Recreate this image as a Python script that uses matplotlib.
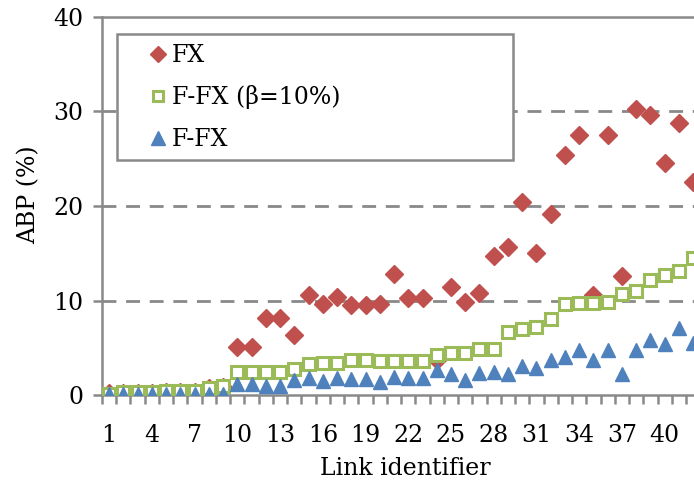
import numpy as np
import matplotlib
matplotlib.use("Agg")
import matplotlib.pyplot as plt
from matplotlib.ticker import FixedLocator
from matplotlib.patches import Rectangle

plt.rcParams['font.family'] = ['DejaVu Serif']

links = list(range(1, 43))
fx = [0.2, 0.2, 0.2, 0.2, 0.3, 0.3, 0.3, 0.7, 0.8, 5.1,
      5.1, 8.1, 8.1, 6.4, 10.6, 9.6, 10.4, 9.5, 9.5, 9.6,
      12.8, 10.3, 10.3, 3.7, 11.4, 9.8, 10.8, 14.7, 15.7, 20.4,
      15.0, 19.2, 25.4, 27.5, 10.6, 27.5, 12.6, 30.3, 29.6, 24.6,
      28.8, 22.5]
ffx_beta = [0.1, 0.3, 0.3, 0.3, 0.4, 0.4, 0.4, 0.7, 0.9, 2.4,
            2.4, 2.4, 2.4, 2.8, 3.3, 3.4, 3.4, 3.7, 3.7, 3.6,
            3.6, 3.6, 3.6, 4.2, 4.4, 4.4, 4.9, 4.9, 6.7, 7.0,
            7.2, 8.0, 9.6, 9.7, 9.7, 9.8, 10.7, 11.0, 12.2, 12.7,
            13.1, 14.5]
ffx = [0.1, 0.1, 0.1, 0.1, 0.1, 0.1, 0.1, 0.1, 0.1, 1.2,
       1.2, 0.9, 0.9, 1.6, 1.8, 1.5, 1.8, 1.7, 1.7, 1.4,
       1.9, 1.8, 1.8, 2.6, 2.2, 1.6, 2.3, 2.4, 2.2, 3.1,
       2.9, 3.7, 4.0, 4.8, 3.7, 4.8, 2.2, 4.8, 5.8, 5.4,
       7.1, 5.5]
xtick_labels = [1, 4, 7, 10, 13, 16, 19, 22, 25, 28, 31, 34, 37, 40]
ytick_labels = [0, 10, 20, 30, 40]

red = '#C0504D'
green = '#9BBB59'
blue = '#4F81BD'
gray = '#898989'

fig = plt.figure(figsize=(6.94, 4.88), dpi=100)
ax = fig.add_axes([102/694, 93/488, 592/694, 378/488])

ax.plot(links, fx, linestyle='none', marker='D', ms=8.7, color=red,
        mec=red, label='FX', zorder=3)
ax.plot(links, ffx_beta, linestyle='none', marker='s', ms=8.2, mfc='white',
        mec=green, mew=2.2, label='F-FX (β=10%)', zorder=4)
ax.plot(links, ffx, linestyle='none', marker='^', ms=10.5, color=blue,
        mec=blue, label='F-FX', zorder=5)

ax.set_xlim(0.5, 42.06)
ax.set_ylim(0, 40)

ax.set_yticks(ytick_labels)
ax.set_xticks(xtick_labels)
ax.xaxis.set_minor_locator(FixedLocator(np.arange(0.5, 43, 1)))
ax.tick_params(axis='x', which='major', length=0, pad=21, labelsize=17)
ax.tick_params(axis='x', which='minor', length=6.5, width=1.8, color=gray, direction='out')
ax.tick_params(axis='y', which='major', length=6.5, width=1.8, color=gray, direction='out', labelsize=17, pad=7)

for y in [10, 20, 30]:
    ax.axhline(y, color=gray, lw=2, ls=(0, (5, 3.5)), zorder=1)

for s in ['left', 'bottom', 'top']:
    ax.spines[s].set_color(gray)
    ax.spines[s].set_linewidth(1.8)
ax.spines['right'].set_visible(False)

ax.set_xlabel('Link identifier', fontsize=17)
ax.xaxis.set_label_coords(0.512, -0.163)
ax.set_ylabel('ABP (%)', fontsize=17)
ax.yaxis.set_label_coords(-0.105, 0.529)

# legend frame
frame = Rectangle((15/592, 235/378), 396/592, 126/378, transform=ax.transAxes,
                  facecolor='white', edgecolor=gray, lw=1.8, zorder=6)
ax.add_patch(frame)

leg = ax.legend(loc='upper left', bbox_to_anchor=(44/592, 351/378),
                numpoints=1, fontsize=17, frameon=False,
                handlelength=1.0, handletextpad=0.1, labelspacing=0.78,
                borderpad=0, borderaxespad=0, markerscale=0.9)
leg.set_zorder(7)

fig.savefig('out.png', dpi=100)
